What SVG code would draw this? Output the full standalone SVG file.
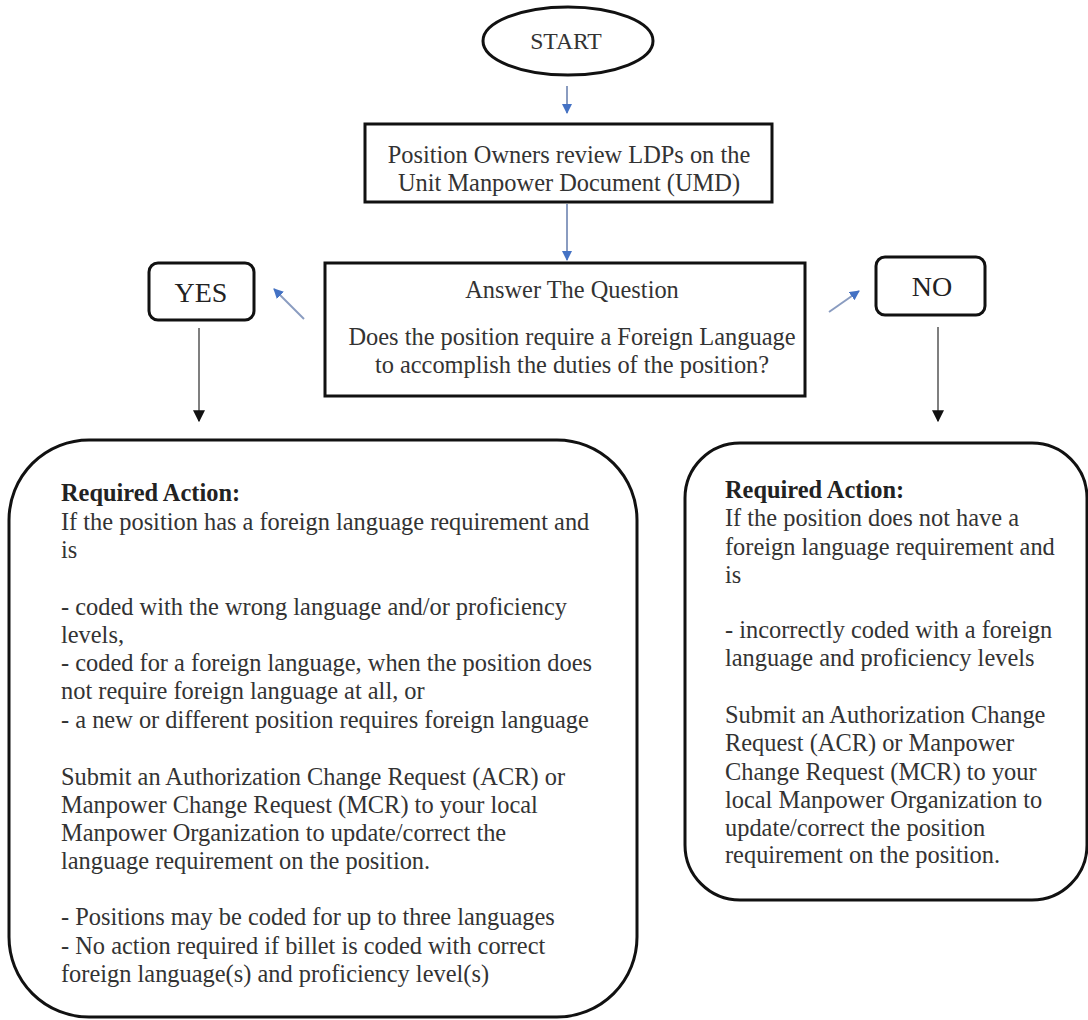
<svg xmlns="http://www.w3.org/2000/svg" width="1088" height="1020" viewBox="0 0 1088 1020">
<defs>
<style>
text{font-family:'Liberation Serif','Times New Roman',Times,serif;fill:#333;}
.c{text-anchor:middle;font-size:24.4px;}
.b{font-size:24.4px;}
.lbl{text-anchor:middle;font-size:28px;fill:#222;}
.bold{font-weight:bold;fill:#222;}
.box{fill:#fff;stroke:#111;stroke-width:3;}
.blue{stroke:#8a9cc0;stroke-width:2;fill:none;}
.blk{stroke:#555;stroke-width:1.5;fill:none;}
</style>
<marker id="ab" viewBox="0 0 10 10" refX="9" refY="5" markerWidth="5" markerHeight="5" orient="auto" markerUnits="strokeWidth"><path d="M0,0 L10,5 L0,10 z" fill="#4472C4"/></marker>
<marker id="ak" viewBox="0 0 10 10" refX="9" refY="5" markerWidth="8" markerHeight="8" orient="auto" markerUnits="strokeWidth"><path d="M0,0 L10,5 L0,10 z" fill="#111"/></marker>
</defs>
<rect width="1088" height="1020" fill="#fff"/>
<g id="connectors">
<line class="blue" x1="567" y1="86" x2="567" y2="113" marker-end="url(#ab)"/>
<line class="blue" x1="567" y1="204" x2="567" y2="260" marker-end="url(#ab)"/>
<line class="blue" x1="304" y1="319" x2="274" y2="289" marker-end="url(#ab)"/>
<line class="blue" x1="829" y1="312" x2="859" y2="291" marker-end="url(#ab)"/>
<line class="blk" x1="199" y1="328" x2="199" y2="421" marker-end="url(#ak)"/>
<line class="blk" x1="938" y1="327" x2="938" y2="421" marker-end="url(#ak)"/>
</g>
<g id="start">
<ellipse class="box" cx="568" cy="41" rx="85" ry="34"/>
<text class="c" x="566" y="49" style="font-size:23.7px">START</text>
</g>
<g id="review">
<rect class="box" x="365" y="124" width="407" height="78"/>
<text class="c" x="569" y="163">Position Owners review LDPs on the</text>
<text class="c" x="569" y="191">Unit Manpower Document (UMD)</text>
</g>
<g id="question">
<rect class="box" x="325" y="263" width="480" height="133"/>
<text class="c" x="572" y="298">Answer The Question</text>
<text class="c" x="572" y="345">Does the position require a Foreign Language</text>
<text class="c" x="572" y="373">to accomplish the duties of the position?</text>
</g>
<g id="yes">
<rect class="box" x="149" y="263" width="105" height="57" rx="9"/>
<text class="lbl" x="201" y="302">YES</text>
</g>
<g id="no">
<rect class="box" x="876" y="257" width="109" height="58" rx="9"/>
<text class="lbl" x="932" y="296">NO</text>
</g>
<g id="yes-action">
<rect class="box" x="9" y="440" width="628" height="577" rx="80"/>
<text class="b" x="61">
<tspan x="61" y="501" class="bold">Required Action:</tspan>
<tspan x="61" y="530">If the position has a foreign language requirement and</tspan>
<tspan x="61" y="558">is</tspan>
<tspan x="61" y="615">- coded with the wrong language and/or proficiency</tspan>
<tspan x="61" y="643">levels,</tspan>
<tspan x="61" y="671">- coded for a foreign language, when the position does</tspan>
<tspan x="61" y="699">not require foreign language at all, or</tspan>
<tspan x="61" y="728">- a new or different position requires foreign language</tspan>
<tspan x="61" y="785">Submit an Authorization Change Request (ACR) or</tspan>
<tspan x="61" y="813">Manpower Change Request (MCR) to your local</tspan>
<tspan x="61" y="841">Manpower Organization to update/correct the</tspan>
<tspan x="61" y="869">language requirement on the position.</tspan>
<tspan x="61" y="925">- Positions may be coded for up to three languages</tspan>
<tspan x="61" y="954">- No action required if billet is coded with correct</tspan>
<tspan x="61" y="982">foreign language(s) and proficiency level(s)</tspan>
</text>
</g>
<g id="no-action">
<rect class="box" x="685" y="443" width="402" height="457" rx="55"/>
<text class="b" x="725">
<tspan x="725" y="498" class="bold">Required Action:</tspan>
<tspan x="725" y="526">If the position does not have a</tspan>
<tspan x="725" y="555">foreign language requirement and</tspan>
<tspan x="725" y="583">is</tspan>
<tspan x="725" y="638">- incorrectly coded with a foreign</tspan>
<tspan x="725" y="666">language and proficiency levels</tspan>
<tspan x="725" y="723">Submit an Authorization Change</tspan>
<tspan x="725" y="751">Request (ACR) or Manpower</tspan>
<tspan x="725" y="780">Change Request (MCR) to your</tspan>
<tspan x="725" y="808">local Manpower Organization to</tspan>
<tspan x="725" y="836">update/correct the position</tspan>
<tspan x="725" y="863">requirement on the position.</tspan>
</text>
</g>
</svg>
